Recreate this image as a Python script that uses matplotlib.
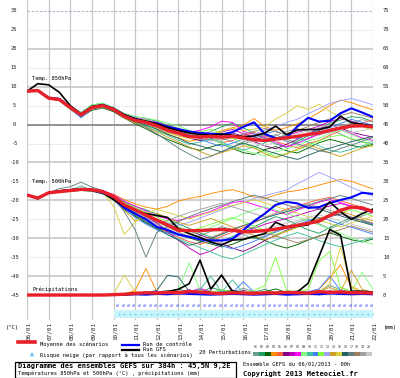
import numpy as np
import matplotlib
matplotlib.use('Agg')
import matplotlib.pyplot as plt
from matplotlib.lines import Line2D
from matplotlib.patches import Rectangle
from matplotlib.transforms import offset_copy

# ---------------- data ----------------
hours = list(range(0, 385, 12))
dates = ['06/01', '07/01', '08/01', '09/01', '10/01', '11/01', '12/01', '13/01', '14/01',
         '15/01', '16/01', '17/01', '18/01', '19/01', '20/01', '21/01', '22/01']
member_names = ['01', '02', '03', '04', '05', '06', '07', '08', '09', '10',
                '11', '12', '13', '14', '15', '16', '17', '18', '19', '20']
member_colors = ['#6c9c8c', '#20a060', '#006400', '#ff8c00', '#ff6040', '#800080', '#c000c0',
                 '#ff00ff', '#80ff80', '#40c0a0', '#4080ff', '#80ff40', '#a0a0ff', '#d0a020',
                 '#d8d040', '#206060', '#608080', '#a08060', '#a0a0a0', '#c8c8c8']

mean850 = [8.8, 9.0, 7.0, 6.6, 4.5, 2.6, 4.5, 5.0, 4.0, 2.2, 1.1, 0.6, -0.3, -1.5, -2.2, -3.1, -3.3,
           -3.1, -3.3, -3.1, -3.5, -4.0, -4.2, -3.8, -3.5, -3.1, -2.6, -2.2, -1.5, -0.9, -0.4, -0.3, -0.6]
ctrl850 = [8.8, 9.0, 7.0, 6.8, 4.5, 2.5, 4.5, 5.2, 4.2, 2.5, 1.5, 0.8, 0.3, -0.6, -1.2, -1.8, -2.2,
           -2.4, -2.6, -2.0, -0.6, 0.6, -2.5, -3.6, -3.5, -0.5, 1.8, 0.8, 1.0, 3.0, 4.3, 3.2, 2.0]
gfs850 = [8.8, 10.8, 10.5, 8.5, 5.0, 2.8, 4.8, 5.2, 4.2, 2.6, 1.5, 0.9, 0.2, -0.8, -1.6, -2.2, -2.6,
          -2.8, -2.5, -2.8, -3.2, -3.0, -2.2, -0.4, -2.6, -1.4, -1.3, -1.3, -0.6, 2.2, 0.5, 0.1, -0.3]

mean500 = [-18.6, -19.4, -18.0, -17.7, -17.4, -17.1, -17.2, -17.7, -19.0, -21.2, -22.5, -23.9, -25.2,
           -26.5, -27.9, -28.0, -28.0, -27.8, -27.7, -27.9, -28.3, -28.2, -28.0, -27.6, -27.1, -26.6,
           -26.1, -25.5, -24.0, -22.6, -21.8, -22.0, -23.0]
ctrl500 = [-18.6, -19.4, -18.0, -17.6, -17.3, -17.0, -17.3, -18.0, -19.5, -22.0, -23.5, -25.0, -27.0,
           -27.8, -29.0, -29.6, -30.3, -30.6, -30.6, -30.2, -27.9, -25.5, -23.5, -21.2, -20.4, -20.8,
           -22.0, -21.8, -20.7, -19.9, -19.2, -18.0, -18.3]
gfs500 = [-18.6, -19.6, -18.0, -17.5, -17.2, -17.0, -17.2, -17.8, -19.8, -21.5, -22.5, -23.5, -24.0,
          -24.5, -27.5, -28.8, -29.8, -31.0, -31.8, -30.5, -30.3, -29.5, -28.8, -25.8, -27.0, -26.8,
          -26.5, -23.5, -20.4, -23.0, -25.0, -23.5, -22.3]

meanpr = [0, 0, 0, 0, 0, 0, 0, 0, 0.1, 0.2, 0.4, 0.6, 0.5, 0.7, 0.6, 0.9, 0.8, 0.5, 0.4, 0.6, 0.5,
          0.4, 0.6, 0.5, 0.7, 0.6, 0.5, 0.9, 0.7, 0.8, 0.6, 0.6, 0.5]
ctrlpr = [0, 0, 0, 0, 0, 0, 0, 0, 0, 0.1, 0.2, 0.1, 0.3, 0.2, 0.4, 0.3, 0.2, 0.1, 0.2, 0.3, 0.2,
          0.1, 0.2, 0.3, 0.1, 0.2, 0.3, 0.2, 0.4, 0.3, 0.2, 0.3, 0.2]
gfspr = [0, 0, 0, 0, 0, 0, 0, 0, 0, 0.1, 0.3, 0.6, 0.4, 0.9, 1.5, 3.0, 9.2, 1.6, 5.2, 1.0, 0.6,
         0.5, 0.4, 0.6, 0.5, 0.8, 3.1, 10.1, 17.3, 15.8, 1.0, 1.0, 0.8]

t850 = [
    [8.8, 9.1, 7.1, 6.7, 4.6, 2.7, 4.6, 5.1, 4.1, 2.3, 1.4, 0.8, 0.2, -0.9, -1.8, -2.6, -2.8, -2.4, -3.5, -4.6, -5.2, -4.0, -3.1, -2.7, -3.9, -4.8, -3.6, -2.2, -1.3, -2.5, -3.8, -4.6, -5.0],
    [8.8, 9.0, 7.3, 6.9, 4.9, 3.2, 5.2, 5.6, 4.5, 2.9, 2.1, 1.6, 0.9, -0.2, -1.0, -2.2, -3.0, -1.8, -0.6, 0.4, -0.8, -2.3, -3.7, -5.1, -6.0, -4.4, -3.0, -1.6, 0.4, 1.2, 2.1, 1.8, 0.8],
    [8.8, 8.9, 6.9, 6.3, 4.1, 2.0, 3.8, 4.4, 3.4, 1.7, 0.2, -1.1, -2.6, -3.9, -5.0, -6.1, -6.8, -5.9, -5.1, -6.3, -7.4, -7.9, -6.6, -5.8, -6.9, -7.5, -6.2, -4.8, -3.9, -4.6, -5.5, -6.0, -5.2],
    [8.8, 9.0, 7.1, 6.8, 4.6, 2.5, 4.3, 5.2, 4.3, 2.6, 1.7, 0.4, -1.2, -2.6, -3.5, -4.4, -3.9, -2.7, -1.6, -0.8, -0.2, 1.6, -0.5, -1.5, -0.8, 0.2, 1.5, 3.2, 5.0, 6.5, 5.8, 4.8, 3.9],
    [8.8, 9.0, 6.8, 6.4, 4.2, 2.2, 4.0, 4.6, 3.7, 2.0, 0.9, 0.3, -0.6, -2.0, -2.9, -3.4, -3.0, -3.9, -4.8, -4.2, -3.0, -2.1, -2.9, -4.4, -5.3, -6.1, -5.0, -4.2, -2.8, -1.6, -0.5, 0.4, 1.3],
    [8.8, 9.0, 7.0, 6.6, 4.5, 2.6, 4.6, 5.1, 4.0, 2.1, 1.0, 0.7, 0.0, -1.2, -2.5, -3.6, -4.2, -3.7, -2.8, -2.2, -3.1, -4.5, -5.6, -6.4, -5.2, -3.9, -2.4, -1.0, -0.2, -0.9, -2.0, -2.7, -3.3],
    [8.8, 9.2, 7.0, 6.6, 4.7, 2.9, 4.8, 5.3, 4.1, 2.4, 1.3, 1.0, 0.6, -0.4, -1.1, -2.0, -2.3, -2.6, -1.9, -1.3, -2.4, -3.3, -4.1, -3.6, -2.9, -2.0, -1.3, -0.4, 0.8, 1.6, 0.9, 0.1, -0.6],
    [8.8, 9.0, 7.0, 6.6, 4.5, 2.7, 4.7, 5.3, 4.4, 2.7, 1.9, 1.3, 0.5, -0.6, -1.4, -2.1, -1.5, -0.6, 0.9, 0.6, -1.8, -2.6, -3.4, -4.7, -5.9, -5.0, -3.7, -2.6, -1.9, -1.2, -2.4, -3.5, -4.2],
    [8.8, 9.0, 7.0, 6.9, 4.8, 3.1, 5.2, 5.7, 4.5, 2.8, 2.0, 1.7, 1.2, 0.4, -0.4, -1.5, -2.7, -3.9, -5.0, -6.2, -6.8, -7.5, -8.3, -7.2, -6.4, -5.6, -4.3, -3.6, -2.2, -1.5, -2.6, -3.9, -4.6],
    [8.8, 9.0, 7.0, 6.6, 4.5, 2.3, 4.1, 4.6, 3.8, 1.9, 0.6, -0.4, -1.6, -2.8, -4.1, -5.2, -4.6, -3.8, -4.6, -5.8, -6.7, -5.9, -4.8, -3.7, -2.6, -3.3, -4.7, -5.6, -6.8, -7.3, -6.5, -5.6, -4.9],
    [8.8, 9.0, 7.0, 6.6, 4.3, 1.8, 4.2, 5.1, 4.1, 2.2, 1.1, 0.4, -0.5, -1.6, -2.2, -2.9, -3.8, -4.9, -5.7, -4.9, -3.8, -3.2, -2.4, -1.7, -2.8, -3.7, -2.4, -1.5, -0.8, 0.3, 1.4, 0.6, -0.2],
    [8.8, 9.0, 7.0, 6.6, 4.5, 2.6, 4.6, 5.2, 4.2, 2.5, 1.6, 1.2, 0.4, -0.9, -1.7, -2.4, -2.0, -1.2, -2.3, -3.6, -4.9, -6.1, -7.2, -8.4, -7.6, -6.7, -5.5, -4.3, -3.2, -2.8, -3.7, -4.5, -5.8],
    [8.8, 9.0, 7.0, 6.6, 4.5, 2.6, 4.4, 5.0, 4.0, 2.2, 1.3, 0.8, 0.0, -1.0, -1.9, -2.7, -3.2, -2.8, -2.2, -2.9, -3.5, -2.6, -1.4, -0.5, 0.6, 1.4, 2.9, 4.2, 5.6, 6.3, 6.9, 6.1, 5.2],
    [8.8, 9.0, 7.0, 6.5, 4.4, 2.4, 4.4, 4.9, 3.8, 1.8, 0.4, -0.6, -1.9, -3.3, -4.6, -5.9, -7.1, -8.2, -7.4, -6.6, -5.6, -6.2, -7.7, -8.8, -7.7, -6.5, -5.4, -6.3, -7.5, -8.4, -7.3, -6.2, -5.5],
    [8.8, 9.0, 7.0, 6.6, 4.5, 2.6, 4.5, 5.0, 4.1, 2.1, 1.1, 0.2, -0.9, -2.2, -3.0, -3.7, -3.3, -2.6, -1.8, -0.9, -1.6, -1.2, -0.5, 1.5, 3.0, 5.0, 4.0, 5.4, 3.5, 2.0, 0.6, -0.6, -1.4],
    [8.8, 9.0, 7.0, 6.6, 4.5, 2.6, 4.4, 4.9, 3.9, 2.0, 0.8, -0.1, -1.2, -2.5, -3.6, -4.9, -5.6, -6.4, -7.2, -6.0, -4.9, -5.7, -6.8, -7.6, -8.5, -9.2, -8.1, -7.0, -6.2, -5.4, -4.5, -3.8, -3.1],
    [8.8, 9.0, 7.0, 6.6, 4.5, 2.6, 4.6, 5.0, 3.9, 1.9, 0.7, -0.7, -2.4, -4.3, -6.2, -7.8, -9.2, -8.4, -7.1, -5.9, -4.6, -3.6, -2.6, -3.3, -4.4, -5.1, -6.0, -6.9, -7.4, -6.3, -5.4, -4.4, -3.4],
    [8.8, 9.0, 7.0, 6.6, 4.5, 2.6, 4.5, 5.0, 4.0, 2.3, 1.4, 0.9, 0.1, -0.8, -1.5, -2.3, -2.6, -3.3, -4.1, -3.4, -2.5, -1.8, -1.0, -1.9, -2.7, -1.6, -0.5, 0.6, 1.5, 2.4, 3.2, 2.5, 1.7],
    [8.8, 9.0, 7.0, 6.6, 4.5, 2.6, 4.5, 5.0, 4.0, 2.1, 1.0, 0.2, -0.8, -1.9, -2.6, -3.2, -3.6, -4.3, -3.7, -2.9, -3.6, -4.4, -3.8, -2.9, -1.8, -1.0, -1.9, -2.8, -1.8, -0.6, 0.5, 1.3, 0.6],
    [8.8, 9.0, 7.0, 6.6, 4.5, 2.6, 4.5, 5.0, 4.0, 2.2, 1.2, 0.5, -0.3, -1.3, -2.4, -3.0, -2.5, -1.9, -2.6, -3.3, -4.2, -4.9, -5.5, -4.6, -3.5, -2.4, -1.6, -0.7, -0.1, -1.2, -2.1, -1.6, -0.9],
]

t500 = [
    [-18.6, -19.3, -18.0, -17.5, -17.3, -17.0, -17.4, -18.0, -19.6, -21.8, -23.0, -24.3, -26.0, -27.8, -29.1, -30.0, -29.3, -28.2, -26.9, -27.8, -29.0, -30.2, -29.4, -28.1, -27.0, -25.8, -24.9, -26.2, -27.5, -26.4, -25.0, -24.1, -23.2],
    [-18.6, -19.4, -17.9, -17.6, -17.2, -16.8, -17.0, -17.5, -18.6, -20.4, -21.6, -22.5, -23.6, -24.8, -26.2, -27.4, -28.6, -29.7, -30.8, -29.6, -28.2, -27.0, -25.6, -24.3, -25.1, -26.5, -27.8, -28.7, -27.2, -25.8, -24.6, -25.5, -26.4],
    [-18.6, -19.5, -18.1, -17.8, -17.6, -17.4, -17.6, -18.3, -19.9, -22.5, -24.2, -26.0, -27.4, -28.3, -29.0, -29.9, -30.8, -31.5, -32.3, -31.6, -30.4, -29.7, -30.6, -31.8, -32.6, -31.7, -30.5, -29.4, -28.6, -29.5, -30.4, -31.0, -30.2],
    [-18.6, -19.2, -17.8, -17.4, -17.1, -16.9, -17.1, -17.6, -18.4, -19.8, -20.9, -21.8, -22.3, -21.6, -20.2, -19.5, -19.0, -18.2, -17.6, -17.2, -18.0, -19.1, -19.5, -18.6, -17.8, -17.4, -16.8, -16.0, -15.2, -14.5, -15.0, -16.0, -17.0],
    [-18.6, -19.4, -18.0, -17.7, -17.5, -17.3, -17.4, -18.0, -19.4, -21.6, -23.6, -25.3, -26.9, -28.5, -29.8, -30.9, -31.6, -30.7, -29.5, -28.4, -27.2, -25.9, -24.6, -23.4, -22.3, -21.5, -20.6, -19.8, -19.2, -20.1, -21.0, -21.8, -22.6],
    [-18.6, -19.4, -18.0, -17.7, -17.4, -17.1, -17.2, -17.7, -19.1, -21.0, -22.3, -23.7, -25.1, -26.4, -27.3, -28.0, -29.1, -30.2, -31.4, -32.6, -33.5, -32.2, -30.6, -29.2, -27.9, -26.8, -25.7, -24.9, -24.3, -23.6, -24.5, -25.3, -26.1],
    [-18.6, -19.4, -18.0, -17.6, -17.4, -17.0, -17.1, -17.6, -18.9, -20.8, -22.4, -24.1, -26.0, -28.3, -30.5, -32.6, -34.3, -33.4, -31.8, -30.2, -28.6, -27.4, -26.3, -25.5, -24.8, -24.0, -23.1, -22.3, -21.5, -20.8, -21.6, -22.5, -23.3],
    [-18.6, -19.3, -17.9, -17.5, -17.2, -16.9, -17.0, -17.4, -18.5, -20.2, -21.5, -22.8, -24.1, -24.9, -25.3, -24.6, -23.8, -22.9, -21.7, -20.6, -20.2, -21.1, -22.0, -22.9, -23.7, -22.6, -21.5, -20.5, -19.8, -20.6, -21.5, -22.4, -23.2],
    [-18.6, -19.4, -18.0, -17.7, -17.5, -17.2, -17.3, -17.9, -19.2, -21.4, -22.8, -24.0, -25.4, -26.7, -27.8, -28.9, -28.2, -27.1, -26.0, -24.8, -23.6, -22.5, -21.7, -22.6, -23.5, -24.4, -25.4, -26.5, -27.6, -28.7, -29.9, -30.8, -31.6],
    [-18.6, -19.4, -18.0, -17.6, -17.3, -16.2, -17.3, -17.8, -19.3, -21.5, -23.4, -25.6, -27.5, -29.1, -30.2, -31.3, -32.5, -33.6, -34.8, -35.5, -34.3, -33.0, -31.7, -30.5, -29.4, -28.5, -29.4, -30.6, -31.5, -32.3, -31.4, -30.6, -29.9],
    [-18.6, -19.4, -18.0, -17.7, -17.4, -17.1, -17.3, -17.9, -19.5, -22.2, -24.5, -26.3, -27.8, -28.6, -29.3, -29.8, -30.4, -31.2, -32.0, -32.8, -31.9, -30.8, -29.6, -28.4, -27.3, -26.4, -25.4, -24.5, -25.3, -26.3, -27.1, -28.0, -28.9],
    [-18.6, -19.4, -18.0, -17.7, -17.4, -17.1, -17.2, -17.6, -18.8, -20.6, -21.9, -23.1, -24.4, -25.7, -27.0, -28.1, -27.3, -26.3, -25.4, -24.5, -25.6, -26.8, -27.9, -29.0, -28.1, -27.2, -26.1, -25.2, -24.2, -23.3, -22.5, -23.3, -24.2],
    [-18.6, -19.4, -18.0, -17.7, -17.4, -17.1, -17.2, -17.7, -19.0, -21.1, -22.6, -24.0, -25.3, -26.0, -26.6, -25.8, -24.7, -23.6, -22.5, -21.5, -20.5, -19.5, -18.8, -18.0, -17.3, -15.6, -14.2, -12.6, -13.8, -15.2, -16.6, -17.8, -18.9],
    [-18.6, -19.4, -18.0, -17.7, -17.4, -17.1, -17.2, -17.8, -19.4, -22.6, -25.5, -24.4, -23.4, -24.6, -25.8, -26.6, -25.7, -24.8, -25.9, -27.0, -28.2, -29.3, -30.4, -29.4, -28.2, -27.1, -26.0, -24.8, -23.7, -22.9, -23.8, -24.7, -25.4],
    [-18.6, -19.4, -18.0, -17.7, -17.4, -17.1, -17.2, -17.9, -21.5, -29.0, -25.8, -23.5, -22.4, -23.2, -24.0, -24.9, -24.0, -23.1, -22.2, -21.4, -20.6, -19.8, -20.7, -21.6, -22.5, -23.4, -24.3, -25.2, -26.1, -27.0, -26.0, -25.1, -24.2],
    [-18.6, -19.4, -18.0, -17.7, -17.4, -17.1, -17.2, -17.8, -19.3, -21.9, -23.9, -25.7, -27.4, -29.0, -30.5, -31.9, -31.1, -30.1, -29.0, -27.8, -26.7, -25.7, -24.7, -23.8, -23.0, -22.2, -21.4, -22.3, -23.2, -24.1, -25.0, -25.8, -26.6],
    [-18.6, -19.4, -18.0, -16.9, -16.4, -15.2, -16.5, -17.4, -19.3, -23.0, -27.8, -35.0, -28.5, -27.0, -25.6, -24.3, -23.2, -22.2, -21.3, -20.3, -19.5, -18.6, -19.4, -20.3, -21.2, -22.1, -21.2, -20.3, -19.5, -18.7, -19.5, -20.4, -21.2],
    [-18.6, -19.4, -18.0, -17.7, -17.4, -17.1, -17.2, -17.7, -19.1, -21.3, -22.8, -24.2, -25.6, -27.1, -28.4, -29.6, -30.6, -29.8, -28.7, -27.6, -26.6, -27.5, -28.5, -29.4, -30.3, -31.2, -30.4, -29.5, -28.6, -27.7, -26.8, -27.6, -28.4],
    [-18.6, -19.4, -18.0, -17.7, -17.4, -17.1, -17.2, -17.7, -19.0, -21.0, -22.6, -24.5, -26.4, -25.3, -24.2, -23.2, -22.4, -21.6, -20.8, -21.7, -22.6, -23.5, -24.4, -23.5, -22.6, -21.7, -20.9, -21.8, -22.6, -23.5, -24.4, -25.2, -26.0],
    [-18.6, -19.4, -18.0, -17.7, -17.4, -17.1, -17.2, -17.7, -19.0, -21.1, -22.4, -23.8, -25.0, -26.3, -27.5, -28.6, -29.6, -30.5, -31.3, -30.4, -29.4, -28.5, -27.6, -26.8, -26.0, -25.3, -24.5, -23.8, -24.6, -25.5, -26.3, -27.1, -27.9],
]

precip = [
    [0, 0, 0, 0, 0, 0, 0, 0, 0, 0.2, 0.5, 0.3, 0.8, 1.2, 0.6, 0.4, 1.5, 0.8, 0.3, 0.6, 1.8, 0.9, 0.4, 0.7, 0.5, 1.2, 0.6, 0.9, 2.5, 1.4, 0.8, 0.5, 0.3],
    [0, 0, 0, 0, 0, 0, 0, 0, 0, 0, 0.3, 0.6, 0.4, 0.9, 1.6, 0.7, 0.5, 2.0, 1.2, 0.6, 0.4, 0.8, 1.5, 0.6, 0.3, 0.5, 0.9, 0.6, 0.4, 0.7, 1.0, 0.6, 0.4],
    [0, 0, 0, 0, 0, 0, 0, 0, 0, 0.1, 0.2, 0.5, 0.3, 0.6, 0.4, 1.0, 0.7, 0.5, 0.8, 1.3, 0.6, 0.4, 0.9, 1.6, 0.7, 0.5, 0.3, 0.6, 0.9, 0.5, 0.3, 0.4, 0.6],
    [0, 0, 0, 0, 0, 0, 0, 0, 0, 0.3, 1.2, 7.0, 0.8, 0.5, 0.3, 0.6, 0.4, 0.9, 0.5, 0.7, 0.4, 0.6, 0.3, 0.5, 0.8, 0.4, 0.6, 1.5, 4.5, 8.0, 2.0, 0.8, 0.5],
    [0, 0, 0, 0, 0, 0, 0, 0, 0, 0.2, 0.4, 0.3, 0.6, 0.4, 1.1, 0.6, 0.3, 0.5, 0.7, 0.4, 0.6, 0.9, 0.5, 0.3, 0.6, 0.4, 0.8, 0.5, 0.3, 0.6, 0.4, 0.7, 0.5],
    [0, 0, 0, 0, 0, 0, 0, 0, 0, 0.1, 0.3, 0.2, 0.5, 0.8, 0.4, 0.6, 0.3, 0.5, 0.8, 0.4, 1.2, 0.6, 0.3, 0.5, 0.9, 0.4, 0.6, 0.8, 0.5, 0.3, 0.6, 0.4, 0.5],
    [0, 0, 0, 0, 0, 0, 0, 0, 0, 0.2, 0.4, 0.8, 0.5, 0.3, 0.7, 1.4, 0.6, 0.4, 0.3, 0.6, 0.4, 0.8, 0.5, 0.9, 0.6, 0.4, 0.7, 0.5, 1.1, 0.6, 0.4, 0.5, 0.3],
    [0, 0, 0, 0, 0, 0, 0, 0, 0, 0.3, 0.6, 0.4, 1.0, 0.6, 0.4, 0.8, 1.8, 0.7, 0.4, 0.6, 0.8, 0.5, 0.3, 0.6, 0.4, 0.9, 0.5, 0.7, 0.4, 0.6, 0.8, 0.5, 0.4],
    [0, 0, 0, 0, 0, 0, 0, 0, 0, 0.1, 0.3, 0.5, 0.4, 0.9, 1.5, 8.5, 1.2, 0.6, 0.4, 0.8, 0.5, 0.3, 0.6, 0.4, 0.7, 0.5, 1.0, 0.6, 0.8, 2.0, 1.0, 6.0, 1.5],
    [0, 0, 0, 0, 0, 0, 0, 0, 0, 0.2, 0.3, 0.6, 0.4, 0.7, 0.5, 0.8, 1.5, 5.0, 0.8, 4.0, 0.6, 0.4, 0.7, 0.5, 0.3, 0.6, 0.4, 0.8, 0.5, 0.7, 0.4, 0.6, 0.5],
    [0, 0, 0, 0, 0, 0, 0, 0, 0, 0.1, 0.2, 0.4, 0.3, 0.6, 0.8, 0.5, 0.7, 0.4, 0.9, 0.6, 3.5, 0.8, 0.5, 0.6, 0.4, 0.7, 0.9, 1.6, 5.0, 1.2, 0.6, 0.4, 0.3],
    [0, 0, 0, 0, 0, 0, 0, 0, 0, 0.2, 0.4, 0.3, 0.5, 0.4, 0.7, 0.9, 0.6, 0.8, 1.4, 0.9, 0.7, 1.2, 2.5, 10.0, 1.2, 0.8, 1.5, 9.0, 11.5, 2.0, 1.0, 0.6, 0.4],
    [0, 0, 0, 0, 0, 0, 0, 0, 0, 0.1, 0.3, 0.2, 0.4, 0.6, 0.3, 0.5, 0.8, 0.4, 0.6, 0.9, 0.5, 0.7, 0.4, 0.6, 0.8, 0.5, 0.3, 0.6, 0.9, 0.7, 0.5, 0.4, 0.6],
    [0, 0, 0, 0, 0, 0, 0, 0, 0, 0.4, 0.9, 0.5, 0.3, 0.6, 0.4, 0.8, 0.5, 0.3, 0.6, 0.4, 0.7, 0.5, 0.3, 0.8, 0.5, 0.4, 0.6, 0.9, 2.0, 1.0, 6.5, 1.5, 0.6],
    [0, 0, 0, 0, 0, 0, 0, 0, 0.2, 5.3, 0.8, 0.4, 0.6, 0.3, 0.5, 0.7, 0.4, 0.6, 0.3, 0.5, 0.8, 0.4, 0.6, 0.9, 0.5, 0.7, 0.4, 0.8, 3.0, 12.7, 2.5, 0.8, 0.5],
    [0, 0, 0, 0, 0, 0, 0, 0, 0, 0.1, 0.3, 0.6, 1.2, 5.2, 4.8, 0.9, 0.5, 0.7, 0.4, 0.6, 0.3, 0.5, 0.8, 0.4, 0.6, 0.3, 0.5, 0.7, 0.4, 0.6, 0.8, 0.5, 0.3],
    [0, 0, 0, 0, 0, 0, 0, 0, 0, 0.2, 0.5, 0.8, 0.4, 0.6, 0.3, 0.9, 0.6, 1.2, 5.5, 0.8, 0.5, 0.7, 0.4, 0.6, 0.9, 0.5, 0.3, 0.6, 0.8, 0.5, 0.4, 0.6, 0.5],
    [0, 0, 0, 0, 0, 0, 0, 0, 0, 0.1, 0.2, 0.4, 0.6, 0.3, 0.5, 0.4, 0.7, 0.5, 0.3, 0.6, 0.4, 0.8, 0.5, 0.3, 0.6, 0.4, 0.7, 0.5, 0.6, 0.4, 0.3, 0.5, 0.4],
    [0, 0, 0, 0, 0, 0, 0, 0, 0, 0.2, 0.4, 0.3, 0.5, 0.7, 0.4, 0.6, 0.3, 0.5, 0.8, 0.4, 0.6, 0.3, 0.5, 0.7, 0.4, 0.6, 0.5, 0.3, 0.6, 0.8, 0.4, 0.5, 0.3],
    [0, 0, 0, 0, 0, 0, 0, 0, 0, 0.1, 0.3, 0.5, 0.3, 0.4, 0.6, 0.3, 0.5, 0.7, 0.4, 0.6, 0.3, 0.5, 0.4, 0.6, 0.3, 0.5, 0.7, 0.4, 0.5, 0.3, 0.6, 0.4, 0.5],
]

snow_hours = list(range(102, 385, 6))
snow_labels = ['0%'] * len(snow_hours)

# ---------------- layout helpers ----------------
W, H = 400, 378
PX = 3.787      # pixels per degree
Y0 = 124.6      # pixel row of 0 degC


def v_of(ypix):
    return (Y0 - ypix) / PX


def fx(x):
    return x / W


def fy(y):
    return 1 - y / H


PR_BASE = -45.0  # precipitation baseline in degC scale

fig = plt.figure(figsize=(W / 100, H / 100), dpi=100)
fig.patch.set_facecolor('white')
ax = fig.add_axes([fx(27), fy(320), 346 / W, 320 / H])
ax.set_xlim(0, 384)
ax.set_ylim(v_of(320), v_of(0))
ax.axis('off')

MONO = 'DejaVu Sans Mono'

# grid
for d in range(len(dates)):
    ax.axvline(24 * d, color='#c8c8c8', lw=0.9, zorder=0)
for v in range(-45, 31, 5):
    if v == 0:
        ax.axhline(v, color='#909090', lw=1.4, zorder=0.5)
    elif v == 30:
        ax.axhline(v, color='#9c9cc0', lw=0.6, ls=(0, (3, 2)), zorder=0.5)
    elif v % 10 == 0:
        ax.axhline(v, color='#c4c4c4', lw=1.1, zorder=0.5)
    else:
        ax.axhline(v, color='#c8c8c8', lw=0.6, ls=(0, (1, 1.5)), zorder=0.5)

# tick labels
for v in range(-45, 31, 5):
    ax.text((14 - 27) / 346, v, str(v), transform=ax.get_yaxis_transform(),
            ha='center', va='center', fontsize=3.9, family=MONO, color='#222222')
    ax.text((383 - 27) / 346, v, str(v + 45), transform=ax.get_yaxis_transform(),
            ha='left', va='center', fontsize=3.9, family=MONO, color='#222222')
fig.text(fx(12), fy(328), '(°C)', ha='center', va='center', fontsize=3.9, family=MONO)
fig.text(fx(390), fy(328), '(mm)', ha='center', va='center', fontsize=3.9, family=MONO)

tr = offset_copy(ax.transData, fig=fig, x=1.5, y=0, units='dots')
for d, lab in enumerate(dates):
    ax.text(24 * d, v_of(322), lab, rotation=90, ha='center', va='top',
            fontsize=4.3, family=MONO, transform=tr, color='#222222')

# member lines
for i in range(len(member_names)):
    c = member_colors[i]
    ax.plot(hours, t850[i], color=c, lw=0.65, zorder=2)
    ax.plot(hours, t500[i], color=c, lw=0.65, zorder=2)
    ax.plot(hours, np.array(precip[i]) + PR_BASE, color=c, lw=0.65, zorder=2)

# control & GFS
for arr in (ctrl850, ctrl500):
    ax.plot(hours, arr, color='#0000ff', lw=1.5, zorder=4)
ax.plot(hours, np.array(ctrlpr) + PR_BASE, color='#0000ff', lw=1.5, zorder=4)
for arr in (gfs850, gfs500):
    ax.plot(hours, arr, color='#000000', lw=1.2, zorder=4.5)
ax.plot(hours, np.array(gfspr) + PR_BASE, color='#000000', lw=1.2, zorder=4.5)

# mean
for arr in (mean850, mean500):
    ax.plot(hours, arr, color='#e8202a', lw=2.4, zorder=5, solid_capstyle='butt')
ax.plot(hours, np.array(meanpr) + PR_BASE, color='#e8202a', lw=2.4, zorder=5)

# labels in plot
ax.text(6, v_of(79), 'Temp. 850hPa', fontsize=3.9, family=MONO, va='center', ha='left')
ax.text(6, v_of(182), 'Temp. 500hPa', fontsize=3.9, family=MONO, va='center', ha='left')
ax.text(6, v_of(289), 'Précipitations', fontsize=3.9, family=MONO, va='center', ha='left')

# snow risk row
ax.axhspan(v_of(318), v_of(310), xmin=96 / 384, xmax=1, color='#c8f4fb', lw=0, zorder=1)
for h, lab in zip(snow_hours, snow_labels):
    ax.text(h, v_of(304), lab, rotation=90, ha='center', va='center', fontsize=2.6,
            family=MONO, color='#3040ff', zorder=3)
    ax.plot([h], [v_of(314)], marker='*', ms=2.2, color='#70d0f0', mew=0, zorder=3)

# ---------------- legend ----------------
fig.add_artist(Line2D([fx(18), fx(35)], [fy(342), fy(342)], color='#e8202a', lw=2.6))
fig.text(fx(40), fy(344), 'Moyenne des scénarios', fontsize=3.9, family=MONO, va='center')
fig.add_artist(Line2D([fx(122), fx(139)], [fy(345), fy(345)], color='#0000ff', lw=1.6))
fig.text(fx(143), fy(344.5), 'Run de contrôle', fontsize=3.9, family=MONO, va='center')
fig.add_artist(Line2D([fx(122), fx(139)], [fy(349.5), fy(349.5)], color='#000000', lw=1.6))
fig.text(fx(143), fy(349.5), 'Run GFS', fontsize=3.9, family=MONO, va='center')
fig.add_artist(Line2D([fx(32)], [fy(355)], marker='*', ms=4, color='#60c0f0', mew=0, lw=0))
fig.text(fx(40), fy(355), 'Risque neige (par rapport à tous les scénarios)', fontsize=3.9,
         family=MONO, va='center')

fig.text(fx(199), fy(353), '20 Perturbations', fontsize=3.9, family=MONO, va='center')
bx0, bw = 253, 5.95
for i, (nm, c) in enumerate(zip(member_names, member_colors)):
    fig.add_artist(Rectangle((fx(bx0 + i * bw), fy(355.5)), bw / W, 4 / H, color=c, lw=0,
                             transform=fig.transFigure))
    fig.text(fx(bx0 + i * bw + bw / 2), fy(347.5), nm, fontsize=2.3, family=MONO,
             ha='center', va='center', color='#333333')

fig.add_artist(Rectangle((fx(15), fy(378)), 221 / W, 16 / H, fill=False, ec='black', lw=0.9,
                         transform=fig.transFigure))
fig.text(fx(18), fy(366), 'Diagramme des ensembles GEFS sur 384h : 45,5N 9,2E', fontsize=5.0,
         family=MONO, weight='bold', va='center')
fig.text(fx(18), fy(373.5), 'Températures 850hPa et 500hPa (°C) , précipitations (mm)',
         fontsize=3.9, family=MONO, va='center')
fig.text(fx(243), fy(363.5), 'Ensemble GEFS du 06/01/2013 - 00h', fontsize=3.9, family=MONO,
         va='center')
fig.text(fx(243), fy(373.5), 'Copyright 2013 Meteociel.fr', fontsize=5.0, family=MONO,
         weight='bold', va='center')

fig.savefig('out.png', dpi=100, facecolor='white')
